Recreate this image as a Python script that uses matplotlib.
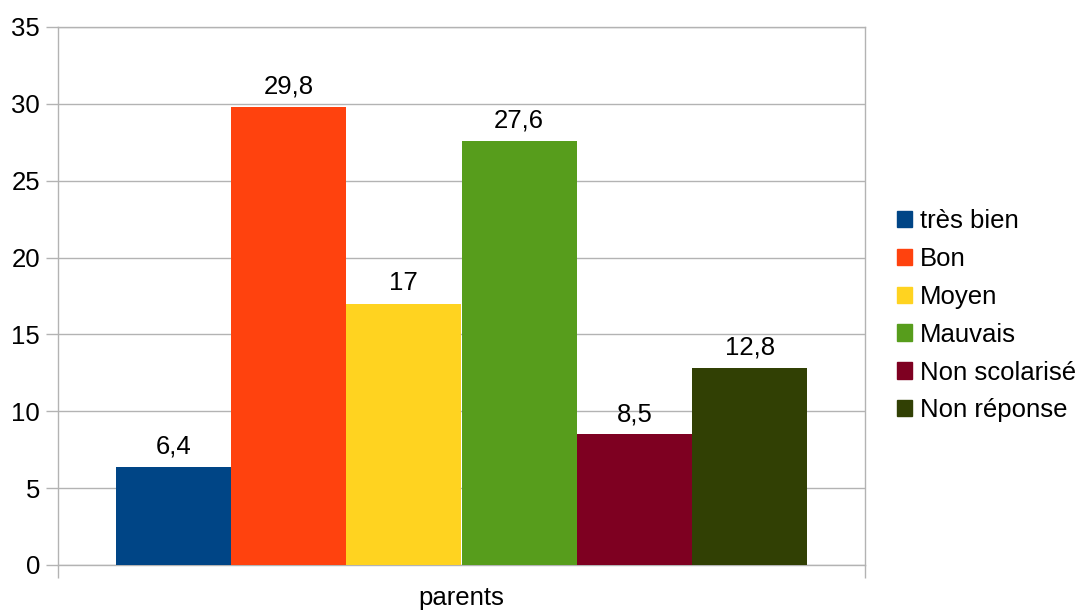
import matplotlib
matplotlib.use("Agg")
import matplotlib.pyplot as plt
from matplotlib.patches import Patch

# données
categories = ["très bien", "Bon", "Moyen", "Mauvais", "Non scolarisé", "Non réponse"]
values = [6.4, 29.8, 17, 27.6, 8.5, 12.8]
colors = ["#004586", "#ff420e", "#ffd320", "#579d1c", "#7e0021", "#314004"]
group_label = "parents"
yticks = [0, 5, 10, 15, 20, 25, 30, 35]

plt.rcParams["font.family"] = ["Liberation Sans", "DejaVu Sans"]
GRID = "#b3b3b3"
FS = 18.5

fig = plt.figure(figsize=(10.8, 6.1), dpi=100)
ax = fig.add_axes([58 / 1080, 1 - 565 / 610, 807 / 1080, 538 / 610])

n = len(values)
w = (6 / 7) / n
for i, (v, c) in enumerate(zip(values, colors)):
    x = -3 / 7 + w * (i + 0.5)
    ax.bar(x, v, width=w, color=c, zorder=3)
    lab = f"{v:g}".replace(".", ",")
    ax.annotate(lab, (x, v), xytext=(0, 6), textcoords="offset points",
                ha="center", va="bottom", fontsize=FS, color="#000000")

ax.set_xlim(-0.5, 0.5)
ax.set_ylim(0, 35)
ax.set_yticks(yticks)
ax.yaxis.grid(True, color=GRID, lw=1, zorder=0)
ax.set_xticks([-0.5, 0.5])
ax.set_xticklabels(["", ""])
ax.set_xticks([0], minor=True)
ax.set_xticklabels([group_label], minor=True)
ax.tick_params(axis="x", which="major", length=9, color=GRID, width=1)
ax.tick_params(axis="x", which="minor", length=0, pad=15, labelsize=FS)
ax.tick_params(axis="y", length=9, color=GRID, width=1, labelsize=FS, pad=4)
for s in ax.spines.values():
    s.set_color(GRID)
    s.set_linewidth(1)

handles = [Patch(facecolor=c, edgecolor=c) for c in colors]
fig.legend(handles, categories, loc="upper left", bbox_to_anchor=(897 / 1080, 1 - 209 / 610),
           frameon=False, fontsize=FS, handlelength=0.6, handleheight=0.6,
           handletextpad=0.3, labelspacing=0.54, borderaxespad=0, borderpad=0)

fig.savefig("out.png", dpi=100)
